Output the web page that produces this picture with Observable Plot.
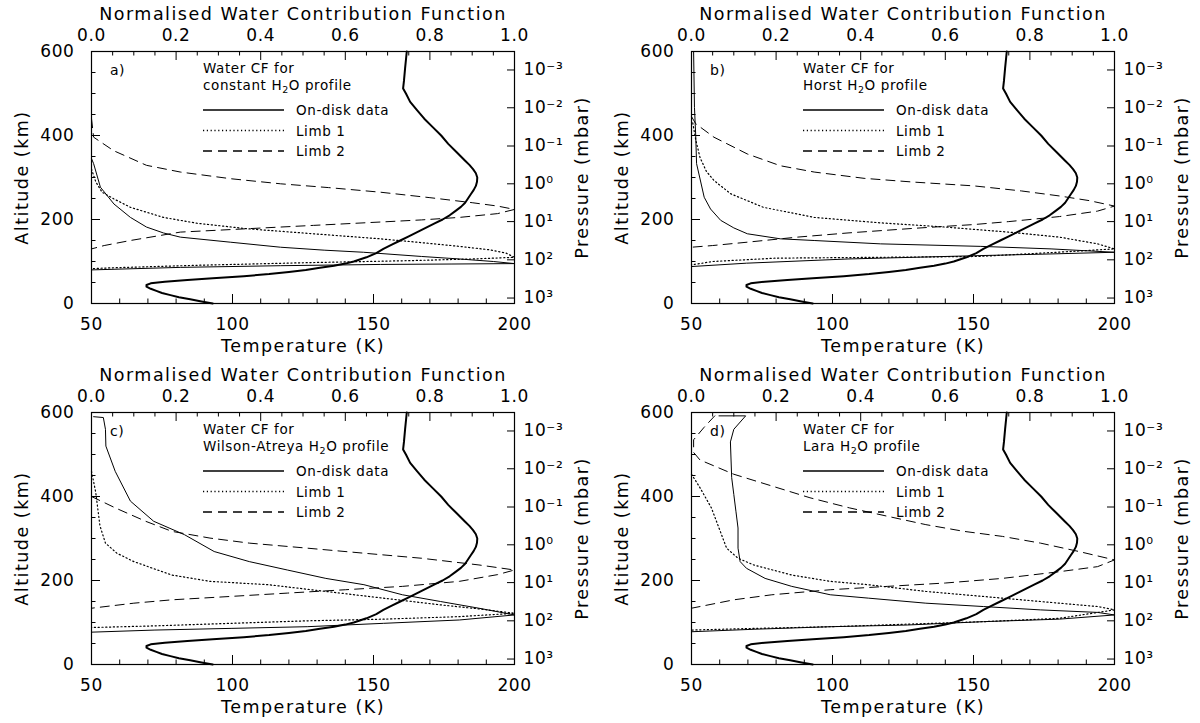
<!DOCTYPE html>
<html><head><meta charset="utf-8">
<script src="https://cdn.jsdelivr.net/npm/d3@7"></script>
<script src="https://cdn.jsdelivr.net/npm/@observablehq/plot@0.6"></script>
<style>
body{margin:0;background:#fff;}
#grid{display:grid;grid-template-columns:600px 600px;grid-template-rows:361px 362px;width:1200px;height:723px;overflow:hidden}
.panel{position:relative;width:600px;height:361px;color:#000}
.panel svg{display:block}
.panel svg.legend{position:absolute;left:0;top:0;pointer-events:none;font-family:'DejaVu Sans',sans-serif}
.panel [aria-label="x-axis label"], .panel [aria-label="y-axis label"]{font-size:17.5px;letter-spacing:1.5px}
.panel [aria-label="x-axis tick label"], .panel [aria-label="y-axis tick label"]{font-size:17px;letter-spacing:0.6px}
</style></head>
<body><div id="grid"></div>
<script>
// ---- temperature profile (same in every panel) ----
const tempAlt = [0,5,10,15,20,25,30,35,40,44,48,52,56,60,65,70,75,80,85,90,95,100,110,120,130,140,150,160,170,180,190,200,210,220,230,240,250,260,270,280,290,300,310,320,330,340,350,360,380,400,420,440,460,480,500,512,530,560,600];
const tempK   = [93,89,85,81,78,75,73,71,69.5,69.5,71,76,84,93,104,113,120,126,131,136,140,143,147.5,151,153.5,156.5,159.5,162.5,165.5,168.5,171.5,174.5,177,179,181,182.5,183.5,184.5,185.5,186.3,186.7,186.8,186.3,185.3,184,182.5,181,179.5,176.5,174,171,168,165.5,163,161.5,160.5,160.8,161.2,161.8];

// ---- axis ticks ----
const tempMajorTicks = [50,100,150,200];
const tempMinorTicks = [60,70,80,90,110,120,130,140,160,170,180,190];
const cfMajorTicks = [0,0.2,0.4,0.6,0.8,1.0];
const cfMinorTicks = [0.05,0.1,0.15,0.25,0.3,0.35,0.45,0.5,0.55,0.65,0.7,0.75,0.85,0.9,0.95];
const altMajorTicks = [0,200,400,600];
const altMinorTicks = [50,100,150,250,300,350,450,500,550];
const pressureTickAlt = [556,466,375,285,195,104,13];
const pressureTickLabels = ["10\u207B\u00B3","10\u207B\u00B2","10\u207B\u00B9","10\u2070","10\u00B9","10\u00B2","10\u00B3"];

// ---- panel texts ----
const panelLetters = ["a)","b)","c)","d)"];
const profileNames = ["constant","Horst","Wilson-Atreya","Lara"];
const legendLabels = ["On-disk data","Limb 1","Limb 2"];

// ---- normalised water contribution functions: [cf, altitude km] ----
const diskA  = [[0,345],[0.005,333],[0.021,277],[0.053,237],[0.092,205],[0.13,182],[0.17,168],[0.21,158],[0.328,146],[0.447,134],[0.55,127],[0.643,122],[0.78,112],[0.87,106],[0.95,100],[1.0,95],[0.85,94],[0.683,93],[0.447,90],[0.21,86],[0,80]];
const limb1A = [[0,320],[0.01,290],[0.025,265],[0.053,249],[0.092,229],[0.17,205],[0.25,191],[0.368,178],[0.525,166],[0.683,154],[0.78,145],[0.87,136],[0.94,128],[0.98,120],[1.0,110],[0.9,106],[0.75,102],[0.5,97],[0.25,91],[0.05,85],[0,83]];
const limb2A = [[0,440],[0.005,396],[0.052,364],[0.13,329],[0.21,313],[0.33,297],[0.447,285],[0.56,276],[0.683,265],[0.8,252],[0.9,240],[0.96,232],[1.0,224],[0.96,214],[0.87,205],[0.78,199],[0.683,194],[0.525,186],[0.368,178],[0.21,170],[0.092,150],[0.03,138],[0,130]];

const diskB  = [[0.005,600],[0.007,467],[0.01,400],[0.012,333],[0.03,253],[0.045,225],[0.069,198],[0.1,180],[0.132,166],[0.21,154],[0.29,150],[0.447,142],[0.684,136],[0.85,130],[1.0,122],[0.85,118],[0.68,114],[0.37,106],[0.13,96],[0,88]];
const limb1B = [[0.003,430],[0.01,390],[0.02,348],[0.035,315],[0.053,293],[0.093,261],[0.17,229],[0.29,205],[0.447,192],[0.6,182],[0.75,170],[0.87,158],[0.96,142],[1.0,130],[0.9,124],[0.68,112],[0.45,110],[0.2,108],[0.05,100],[0,92]];
const limb2B = [[0,445],[0.01,428],[0.053,396],[0.132,356],[0.21,328],[0.29,313],[0.408,298],[0.526,289],[0.668,280],[0.78,268],[0.87,256],[0.94,245],[1.0,232],[0.96,220],[0.87,207],[0.75,195],[0.668,188],[0.526,179],[0.37,168],[0.25,158],[0.132,146],[0.05,138],[0,134]];

const diskC  = [[0.005,590],[0.028,588],[0.033,560],[0.034,520],[0.056,460],[0.092,389],[0.147,341],[0.22,309],[0.29,269],[0.373,245],[0.463,225],[0.554,205],[0.644,190],[0.735,166],[0.825,150],[0.916,134],[1.0,118],[0.87,106],[0.69,98],[0.51,90],[0.33,86],[0.15,82],[0,77]];
const limb1C = [[0,460],[0.01,410],[0.02,330],[0.033,289],[0.06,265],[0.1,245],[0.19,213],[0.28,198],[0.418,190],[0.554,174],[0.69,158],[0.825,142],[0.92,132],[1.0,122],[0.87,114],[0.69,108],[0.51,104],[0.33,98],[0.15,92],[0,88]];
const limb2C = [[0,400],[0.056,373],[0.128,341],[0.19,317],[0.28,301],[0.373,289],[0.51,277],[0.644,265],[0.78,253],[0.916,237],[1.0,225],[0.96,214],[0.87,198],[0.735,186],[0.6,178],[0.463,170],[0.328,162],[0.19,154],[0.1,146],[0,134]];

const diskD  = [[0.065,592],[0.128,592],[0.1,560],[0.092,530],[0.095,445],[0.1,405],[0.105,365],[0.11,325],[0.11,277],[0.115,245],[0.13,229],[0.174,205],[0.237,186],[0.328,166],[0.418,158],[0.554,146],[0.69,138],[0.825,130],[0.96,124],[1.0,118],[0.87,108],[0.69,102],[0.51,94],[0.33,90],[0.15,84],[0,78]];
const limb1D = [[0,453],[0.02,421],[0.047,373],[0.065,325],[0.083,277],[0.11,253],[0.147,237],[0.237,213],[0.328,198],[0.418,190],[0.554,174],[0.69,162],[0.825,150],[0.96,138],[1.0,130],[0.87,110],[0.69,102],[0.51,96],[0.33,90],[0.15,86],[0,82]];
const limb2D = [[0.055,592],[0.03,565],[0.005,535],[0.005,505],[0.02,487],[0.1,453],[0.19,425],[0.28,397],[0.373,373],[0.463,353],[0.554,333],[0.644,317],[0.735,305],[0.825,289],[0.916,269],[1.0,249],[0.96,233],[0.87,221],[0.735,205],[0.6,194],[0.463,186],[0.328,178],[0.19,166],[0.1,154],[0,134]];

const cfSets = [[diskA,limb1A,limb2A],[diskB,limb1B,limb2B],[diskC,limb1C,limb2C],[diskD,limb1D,limb2D]];

// top axis (CF 0..1) shares the temperature scale: CF maps linearly onto 50..200 K
const cfToT = cf => 50 + 150 * cf;
const temperature = tempK.map((t, i) => ({t, alt: tempAlt[i]}));
const pressureLabelOf = new Map(pressureTickAlt.map((a, i) => [a, pressureTickLabels[i]]));

const W = 600, H = 361, ML = 91, MR = 86, MT = 51, MB = 58;
const FW = W - ML - MR, FH = H - MT - MB;
const dashes = [null, "1.2,2.6", "9,6"];
const widths = [1, 1.2, 1];

function makePanel(k) {
  const sets = cfSets[k];
  const cfMarks = sets.map((s, j) => Plot.line(s, {x: d => cfToT(d[0]), y: d => d[1], stroke: "black", strokeWidth: widths[j], strokeDasharray: dashes[j]}));
  const svg = Plot.plot({
    width: W, height: H,
    marginLeft: ML, marginRight: MR, marginTop: MT, marginBottom: MB,
    x: {domain: [50, 200]},
    y: {domain: [0, 600]},
    style: {fontFamily: "'DejaVu Sans', sans-serif", fontSize: "17px", background: "transparent", color: "black", overflow: "visible"},
    marks: [
      ...cfMarks,
      Plot.line(temperature, {x: "t", y: "alt", stroke: "black", strokeWidth: 2}),
      Plot.tickX(tempMajorTicks, {x: d => d, insetTop: FH - 9, stroke: "black"}),
      Plot.tickX(tempMinorTicks, {x: d => d, insetTop: FH - 4.5, stroke: "black"}),
      Plot.tickX(cfMajorTicks, {x: d => cfToT(d), insetBottom: FH - 9, stroke: "black"}),
      Plot.tickX(cfMinorTicks, {x: d => cfToT(d), insetBottom: FH - 4.5, stroke: "black"}),
      Plot.tickY(altMajorTicks, {y: d => d, insetRight: FW - 9, stroke: "black"}),
      Plot.tickY(altMinorTicks, {y: d => d, insetRight: FW - 4.5, stroke: "black"}),
      Plot.tickY(pressureTickAlt, {y: d => d, insetLeft: FW - 7, stroke: "black"}),
      Plot.axisX({anchor: "bottom", ticks: tempMajorTicks, tickSize: 0, tickPadding: 14, label: "Temperature (K)", labelAnchor: "center", labelArrow: "none", labelOffset: 48}),
      Plot.axisX({anchor: "top", ticks: cfMajorTicks.map(cfToT), tickFormat: t => ((t - 50) / 150).toFixed(1), tickSize: 0, tickPadding: 11, label: "Normalised Water Contribution Function", labelAnchor: "center", labelArrow: "none", labelOffset: 44}),
      Plot.axisY({anchor: "left", ticks: altMajorTicks, tickSize: 0, tickPadding: 17, label: "Altitude (km)", labelAnchor: "center", labelArrow: "none", labelOffset: 76}),
      Plot.axisY({anchor: "right", ticks: pressureTickAlt, tickFormat: d => pressureLabelOf.get(d), tickSize: 0, tickPadding: 9, label: "Pressure (mbar)", labelAnchor: "center", labelArrow: "none", labelOffset: 73}),
      Plot.frame({stroke: "black", strokeWidth: 1.2})
    ]
  });
  // strip any direction arrows from the axis titles
  svg.querySelectorAll('[aria-label$="axis label"] text').forEach(t => {
    t.textContent = t.textContent.replace(/[\u2190-\u2193]\s?|\s?[\u2190-\u2193]/g, "").trim();
  });

  const div = document.createElement("div");
  div.className = "panel";
  div.appendChild(svg);

  // in-panel legend
  const ns = "http://www.w3.org/2000/svg";
  const leg = document.createElementNS(ns, "svg");
  leg.setAttribute("class", "legend");
  leg.setAttribute("width", W); leg.setAttribute("height", H);
  const txt = (x, y, s, size, ls) => {
    const t = document.createElementNS(ns, "text");
    t.setAttribute("x", x); t.setAttribute("y", y);
    t.setAttribute("font-size", size); t.setAttribute("letter-spacing", ls);
    t.textContent = s; leg.appendChild(t); return t;
  };
  txt(110, 75, panelLetters[k], 14, 0.5);
  txt(203, 73, "Water CF for", 13.5, 0.6);
  const t2 = txt(203, 90, profileNames[k] + " H", 13.5, 0.6);
  const sub = document.createElementNS(ns, "tspan");
  sub.setAttribute("font-size", 9.5); sub.setAttribute("dy", 3); sub.textContent = "2";
  const rest = document.createElementNS(ns, "tspan");
  rest.setAttribute("dy", -3); rest.textContent = "O profile";
  t2.appendChild(sub); t2.appendChild(rest);
  const rowY = [110, 130.5, 151];
  legendLabels.forEach((lab, j) => {
    const l = document.createElementNS(ns, "line");
    l.setAttribute("x1", 203); l.setAttribute("x2", 284);
    l.setAttribute("y1", rowY[j]); l.setAttribute("y2", rowY[j]);
    l.setAttribute("stroke", "black"); l.setAttribute("stroke-width", j === 0 ? 1.6 : 1.4);
    if (dashes[j]) l.setAttribute("stroke-dasharray", dashes[j]);
    leg.appendChild(l);
    txt(296, rowY[j] + 5, lab, 13.5, 0.6);
  });
  div.appendChild(leg);
  return div;
}

const grid = document.getElementById("grid");
for (let k = 0; k < 4; k++) grid.appendChild(makePanel(k));
</script></body></html>
